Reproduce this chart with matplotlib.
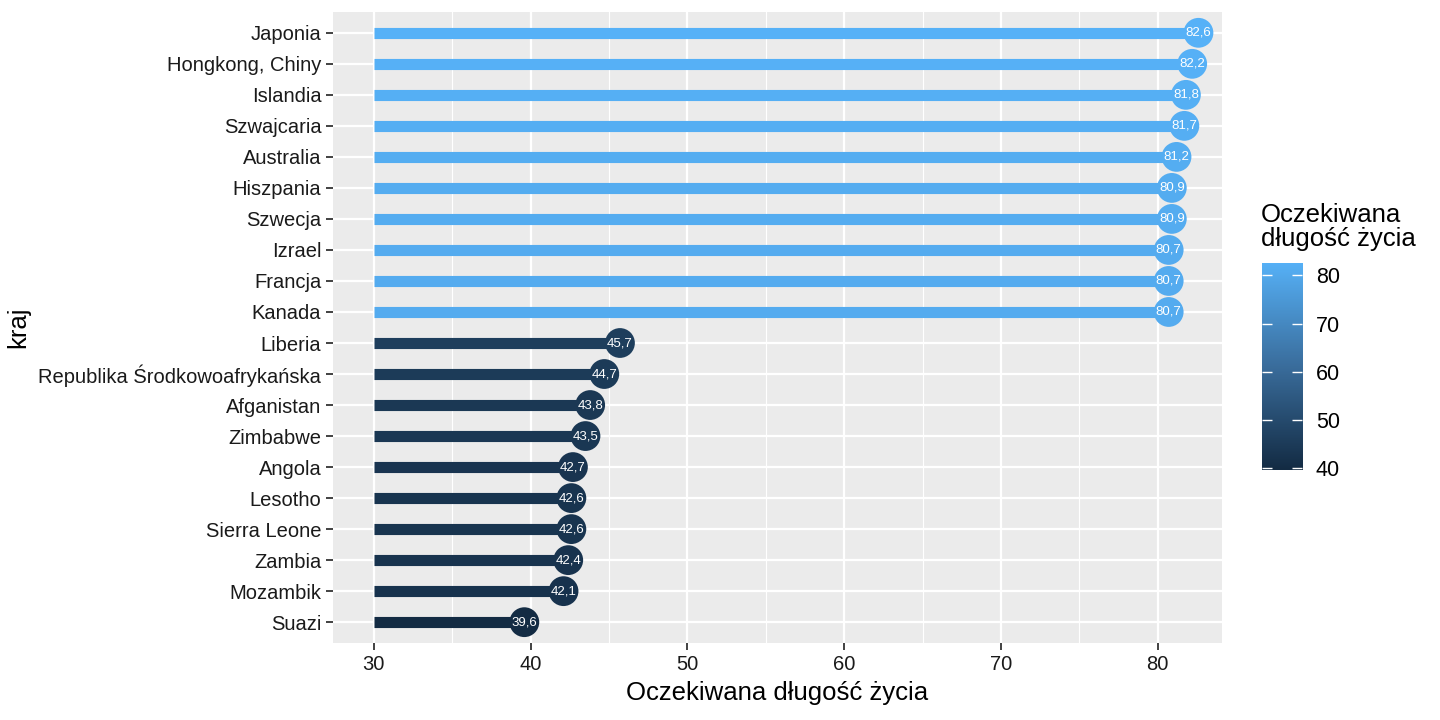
import matplotlib
matplotlib.use("Agg")
import matplotlib.pyplot as plt
from matplotlib.colors import LinearSegmentedColormap, Normalize
import numpy as np

plt.rcParams['font.family'] = ['Liberation Sans', 'DejaVu Sans']

# dane: od góry do dołu
countries = ["Japonia", "Hongkong, Chiny", "Islandia", "Szwajcaria", "Australia",
             "Hiszpania", "Szwecja", "Izrael", "Francja", "Kanada",
             "Liberia", "Republika Środkowoafrykańska", "Afganistan", "Zimbabwe",
             "Angola", "Lesotho", "Sierra Leone", "Zambia", "Mozambik", "Suazi"]
life_exp = [82.6, 82.2, 81.8, 81.7, 81.2, 80.9, 80.9, 80.7, 80.7, 80.7,
            45.7, 44.7, 43.8, 43.5, 42.7, 42.6, 42.6, 42.4, 42.1, 39.6]
x_ticks = [30, 40, 50, 60, 70, 80]
cbar_ticks = [40, 50, 60, 70, 80]

cmap = LinearSegmentedColormap.from_list("gg", ["#132B43", "#3A6D9C", "#56B1F7"])
norm = Normalize(vmin=min(life_exp), vmax=max(life_exp))

fig = plt.figure(figsize=(14.4, 7.2), dpi=100)
ax = fig.add_axes([0.2313, 0.107, 0.6173, 0.8763])
ax.set_facecolor("#EBEBEB")

n = len(countries)
ys = np.arange(n)[::-1]
cols = cmap(norm(np.array(life_exp)))

ax.hlines(ys, 30, life_exp, colors=cols, linewidth=8, zorder=3, capstyle='butt')
ax.scatter(life_exp, ys, s=460, c=cols, zorder=4, linewidths=0)
for x, y in zip(life_exp, ys):
    ax.text(x, y, f"{x:.1f}".replace(".", ","), color="white", fontsize=9.5,
            ha="center", va="center", zorder=5)

ax.set_xlim(27.4, 84.1)
ax.set_ylim(-0.67, n - 1 + 0.67)
ax.set_xticks(x_ticks)
ax.set_xticks([35, 45, 55, 65, 75], minor=True)
ax.set_yticks(ys)
ax.set_yticklabels(countries)
ax.grid(which="major", color="white", linewidth=1.6, zorder=0)
ax.grid(which="minor", axis="x", color="white", linewidth=0.8, zorder=0)
ax.set_axisbelow(True)
for s in ax.spines.values():
    s.set_visible(False)
ax.tick_params(axis="both", which="major", color="#333333", length=5, width=1.3,
               labelsize=14.5, labelcolor="#1a1a1a")
ax.tick_params(axis="x", which="minor", length=0)
ax.set_xlabel("Oczekiwana długość życia", fontsize=18.5, labelpad=5)
ax.set_ylabel("kraj", fontsize=18.5, labelpad=6)

# legenda kolorów
cax = fig.add_axes([0.8764, 0.347, 0.0278, 0.288])
grad = np.linspace(norm.vmin, norm.vmax, 256).reshape(-1, 1)
cax.imshow(grad, aspect="auto", cmap=cmap, norm=norm, origin="lower",
           extent=[0, 1, norm.vmin, norm.vmax])
cax.set_xticks([])
cax.set_yticks(cbar_ticks)
cax.yaxis.tick_right()
cax.tick_params(axis="y", direction="in", color="white", length=7, width=1,
                left=True, right=True, labelleft=False, labelright=True,
                labelsize=15.5, pad=10)
for s in cax.spines.values():
    s.set_visible(False)
fig.text(0.8757, 0.652, "Oczekiwana\ndługość życia", fontsize=18.5, ha="left",
         va="bottom", linespacing=1.0)

fig.savefig("out.png", dpi=100)
